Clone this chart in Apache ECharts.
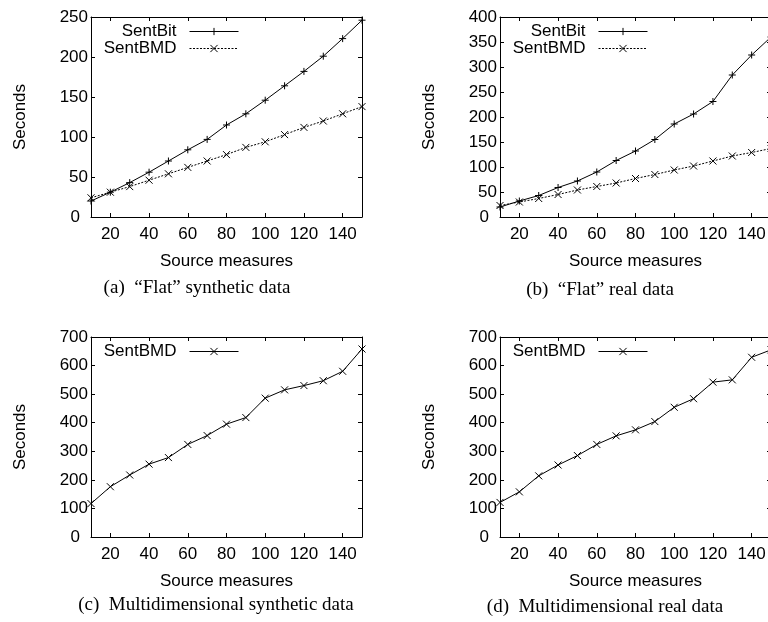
<!DOCTYPE html>
<html>
<head>
<meta charset="utf-8">
<script src="https://cdn.jsdelivr.net/npm/echarts@6.0.0/dist/echarts.min.js"></script>
<style>
  html, body { margin: 0; padding: 0; background: #fff; }
  #chart { width: 768px; height: 622px; }
</style>
</head>
<body>
<div id="chart"></div>
<script>
// data
var measures = [10, 20, 30, 40, 50, 60, 70, 80, 90, 100, 110, 120, 130, 140, 150];
var xTicks = [20, 40, 60, 80, 100, 120, 140];

var flatSynBit  = [20, 31, 43, 56, 70, 84, 97, 115, 129, 146, 164, 182, 201, 223, 246];
var flatSynBMD  = [24, 31, 38, 46, 54, 62, 70, 78, 87, 94, 103, 112, 120, 129, 138];
var flatRealBit = [20, 32, 43, 59, 72, 90, 113, 132, 155, 186, 206, 231, 284, 324, 360];
var flatRealBMD = [23, 30, 37, 45, 54, 61, 68, 77, 85, 94, 102, 112, 122, 129, 137];
var multiSynBMD  = [117, 176, 217, 255, 278, 324, 355, 395, 418, 486, 515, 530, 547, 580, 658];
var multiRealBMD = [121, 158, 214, 252, 285, 324, 354, 375, 404, 454, 484, 542, 550, 629, 655];

var captions = [
  '(a)  \u201cFlat\u201d synthetic data',
  '(b)  \u201cFlat\u201d real data',
  '(c)  Multidimensional synthetic data',
  '(d)  Multidimensional real data'
];

var SANS = '"Liberation Sans", Arial, Helvetica, sans-serif';
var SERIF = '"Liberation Serif", "Times New Roman", serif';
var PLUS = 'path://M5,0L5,10M0,5L10,5';
var CROSS = 'path://M0,0L10,10M10,0L0,10';

function pairs(ys) {
  return measures.map(function (m, i) { return [m, ys[i]]; });
}

// layout of each panel
var panels = [
  { left: 91,  top: 17,  yMax: 250, yStep: 50,  capX: 197, capY: 288, legend: ['SentBit', 'SentBMD'] },
  { left: 500, top: 17,  yMax: 400, yStep: 50,  capX: 600, capY: 290, legend: ['SentBit', 'SentBMD'] },
  { left: 91,  top: 337, yMax: 700, yStep: 100, capX: 216, capY: 605, legend: ['SentBMD'] },
  { left: 500, top: 337, yMax: 700, yStep: 100, capX: 605, capY: 607, legend: ['SentBMD'] }
];

var tickFont = { fontFamily: SANS, fontSize: 17, color: '#000' };
var black = { color: '#000', width: 1 };

var grid = [], xAxis = [], yAxis = [], legend = [], title = [];

panels.forEach(function (p, i) {
  grid.push({ left: p.left, top: p.top, width: 271, height: 200, outerBoundsMode: 'none', containLabel: false });

  // bottom and top (mirror) x axes
  xAxis.push({
    gridIndex: i, type: 'value', min: 10, max: 150, position: 'bottom',
    name: 'Source measures', nameLocation: 'middle', nameGap: 36, nameTextStyle: tickFont,
    axisLine: { show: true, onZero: false, lineStyle: black },
    axisTick: { show: true, inside: true, length: 4, customValues: xTicks, lineStyle: black },
    axisLabel: { customValues: xTicks, margin: 9, fontFamily: SANS, fontSize: 17, color: '#000' },
    splitLine: { show: false }
  });
  xAxis.push({
    gridIndex: i, type: 'value', min: 10, max: 150, position: 'top',
    axisLine: { show: true, onZero: false, lineStyle: black },
    axisTick: { show: true, inside: true, length: 4, customValues: xTicks, lineStyle: black },
    axisLabel: { show: false },
    splitLine: { show: false }
  });

  // left and right (mirror) y axes
  yAxis.push({
    gridIndex: i, type: 'value', min: 0, max: p.yMax, interval: p.yStep, position: 'left',
    name: 'Seconds', nameLocation: 'middle', nameGap: 62, nameRotate: 90, nameTextStyle: tickFont,
    axisLine: { show: true, onZero: false, lineStyle: black },
    axisTick: { show: true, inside: true, length: 4, lineStyle: black },
    axisLabel: {
      margin: 3, fontFamily: SANS, fontSize: 17, color: '#000',
      formatter: function (v) { return v === 0 ? '{z|0}' : String(v); },
      rich: { z: { padding: [0, 8, 0, 0], fontFamily: SANS, fontSize: 17, color: '#000' } }
    },
    splitLine: { show: false }
  });
  yAxis.push({
    gridIndex: i, type: 'value', min: 0, max: p.yMax, interval: p.yStep, position: 'right',
    axisLine: { show: true, onZero: false, lineStyle: black },
    axisTick: { show: true, inside: true, length: 4, lineStyle: black },
    axisLabel: { show: false },
    splitLine: { show: false }
  });

  legend.push({
    orient: 'vertical', align: 'right',
    right: 768 - (p.left + 148), top: p.top + 6,
    padding: 0, itemGap: 0, itemWidth: 49, itemHeight: 9,
    selectedMode: false,
    lineStyle: { width: 1 },
    itemStyle: { borderWidth: 1, borderColor: '#000', color: '#000' },
    textStyle: { fontFamily: SANS, fontSize: 17, color: '#000', lineHeight: 17, padding: [0, 8, 0, 0] },
    data: p.legend.map(function (n) {
      return i >= 2 ? { name: n, lineStyle: { type: 'solid', width: 1 } } : { name: n };
    })
  });

  title.push({
    text: captions[i], left: p.capX, top: p.capY, padding: 0,
    textAlign: 'center', textVerticalAlign: 'middle',
    textStyle: { fontFamily: SERIF, fontSize: 19, fontWeight: 'normal', color: '#000' }
  });
});

function lineSeries(name, panel, ys, symbol, dashed) {
  return {
    type: 'line', name: name,
    xAxisIndex: panel * 2, yAxisIndex: panel * 2,
    data: pairs(ys),
    symbol: symbol, symbolSize: 7, showAllSymbol: true,
    lineStyle: { color: '#000', width: 1, type: dashed ? [2, 1.5] : 'solid' },
    itemStyle: { color: '#000', borderColor: '#000', borderWidth: 1 },
    emphasis: { disabled: true },
    animation: false
  };
}

var series = [
  lineSeries('SentBit', 0, flatSynBit, PLUS, false),
  lineSeries('SentBMD', 0, flatSynBMD, CROSS, true),
  lineSeries('SentBit', 1, flatRealBit, PLUS, false),
  lineSeries('SentBMD', 1, flatRealBMD, CROSS, true),
  lineSeries('SentBMD', 2, multiSynBMD, CROSS, false),
  lineSeries('SentBMD', 3, multiRealBMD, CROSS, false)
];

var myChart = echarts.init(document.getElementById('chart'));
myChart.setOption({
  backgroundColor: '#fff',
  animation: false,
  title: title,
  legend: legend,
  grid: grid,
  xAxis: xAxis,
  yAxis: yAxis,
  series: series
});
</script>
</body>
</html>
